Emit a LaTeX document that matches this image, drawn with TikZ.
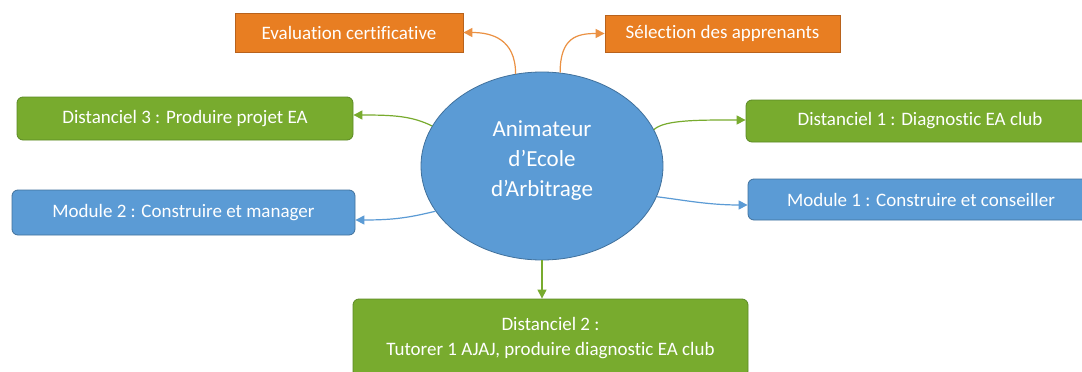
\documentclass[tikz,border=0pt]{standalone}
\usepackage{fontspec}
\setmainfont{Carlito}[Ligatures=NoCommon]
\usetikzlibrary{shapes.geometric,arrows.meta}
\definecolor{orgfill}{HTML}{E87E22}
\definecolor{orgline}{HTML}{B8621C}
\definecolor{grnfill}{HTML}{78AB2E}
\definecolor{grnline}{HTML}{5B8A24}
\definecolor{blufill}{HTML}{5B9BD5}
\definecolor{bluline}{HTML}{41719C}
\begin{document}
\begin{tikzpicture}[x=1pt,y=-1pt,
  boxtext/.style={text=white,font=\fontsize{19}{25}\selectfont,inner sep=0pt,align=center},
  orgbox/.style={boxtext,draw=orgline,fill=orgfill,line width=0.8pt},
  grnbox/.style={boxtext,draw=grnline,fill=grnfill,line width=0.8pt,rounded corners=6pt},
  blubox/.style={boxtext,draw=bluline,fill=blufill,line width=0.8pt,rounded corners=6pt},
  conn/.style={line width=1.2pt,-{Triangle[length=9pt,width=9pt]}},
  orgconn/.style={conn,draw=orgfill!85!white},
  grnconn/.style={conn,draw=grnfill},
  bluconn/.style={conn,draw=blufill},
]
\useasboundingbox (0,0) rectangle (1082,372);
\clip (0,0) rectangle (1082,372);
\fill[white] (0,0) rectangle (1082,372);

% centre ellipse
\node[ellipse,draw=bluline,fill=blufill,line width=0.8pt,minimum width=242pt,minimum height=188pt,inner sep=0pt] (c) at (542,166) {};
\node[text=white,font=\fontsize{23}{30}\selectfont,align=center,inner sep=0pt] (ct) at (542,161) {Animateur\\d’Ecole\\d’Arbitrage};

% boxes
\node[orgbox,minimum width=228pt,minimum height=39pt] (ev) at (349,32.5) {Evaluation certificative};
\node[orgbox,minimum width=235pt,minimum height=37pt] (sel) at (722.5,33.5) {Sélection des apprenants};
\node[grnbox,minimum width=336pt,minimum height=43pt] (d3) at (185,118.5) {Distanciel 3 : Produire projet EA};
\node[blubox,minimum width=343pt,minimum height=45pt] (m2) at (183.5,212.5) {Module 2 : Construire et manager};
\node[grnbox,minimum width=348pt,minimum height=42pt] (d1) at (920,121) {Distanciel 1 : Diagnostic EA club};
\node[blubox,minimum width=346pt,minimum height=41pt] (m1) at (921,199.5) {Module 1 : Construire et conseiller};
\node[grnbox,minimum width=395pt,minimum height=78pt] (d2) at (550.5,338) {Distanciel 2 :\\Tutorer 1 AJAJ, produire diagnostic EA club};

% connectors
\draw[orgconn] (c.106) .. controls +(0,-35) and +(28,0) .. (ev.east);
\draw[orgconn] (c.79) .. controls +(0,-35) and +(-28,0) .. (sel.west);
\draw[grnconn] (c.160) .. controls +(-20,-10) and +(40,0) .. ([yshift=3.5pt]d3.east);
\draw[bluconn] (c.203) .. controls +(-25,6) and +(40,0) .. ([yshift=-7.5pt]m2.east);
\draw[grnconn] (c.18) .. controls +(10,-10) and +(-45,0) .. ([yshift=1pt]d1.west);
\draw[bluconn] (c.345) .. controls +(25,3) and +(-40,0) .. ([yshift=-5.5pt]m1.west);
\draw[grnconn] (c.south) -- (c.south |- d2.north);
\end{tikzpicture}
\end{document}
